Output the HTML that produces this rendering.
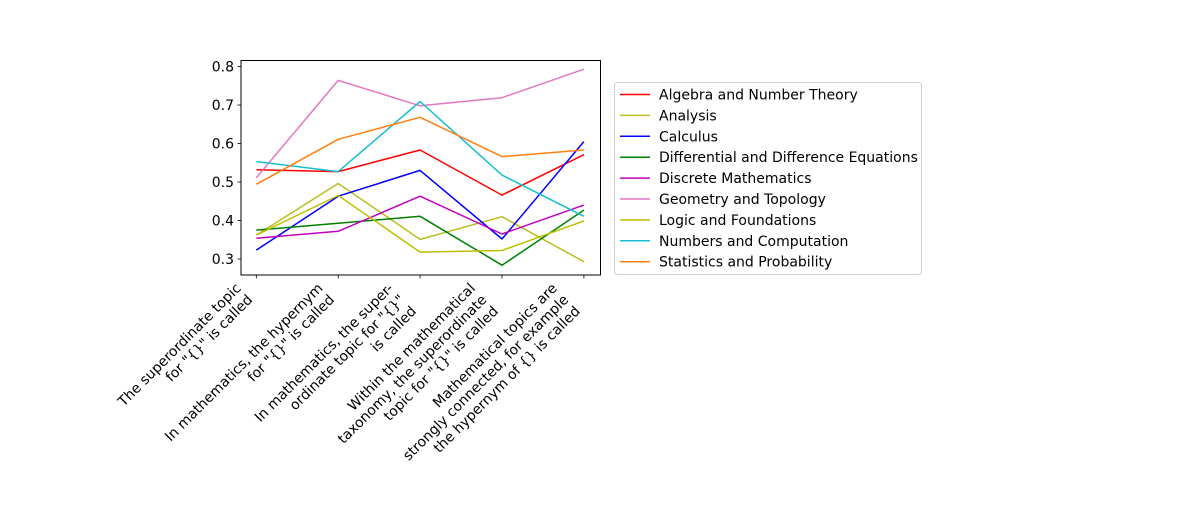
<!DOCTYPE html>
<html><head><meta charset="utf-8"><style>
html,body{margin:0;padding:0;background:#fff;}
svg text{font-family:"DejaVu Sans","Liberation Sans",sans-serif;font-size:14px;fill:#000;}
</style></head><body>
<svg id="chart" width="1200" height="500" xmlns="http://www.w3.org/2000/svg">
<rect x="0" y="0" width="1200" height="500" fill="#fff"/>
<g id="plot"></g>
<g id="xlabels"></g>
<g id="legend"></g>
</svg>
<script>
const categories = [
  ["The superordinate topic", "for \"{}\" is called"],
  ["In mathematics, the hypernym", "for \"{}\" is called"],
  ["In mathematics, the super-", "ordinate topic for \"{}\"", "is called"],
  ["Within the mathematical", "taxonomy, the superordinate", "topic for \"{}\" is called"],
  ["Mathematical topics are", "strongly connected, for example", "the hypernym of {} is called"]
];
const seriesNames = ["Algebra and Number Theory","Analysis","Calculus","Differential and Difference Equations","Discrete Mathematics","Geometry and Topology","Logic and Foundations","Numbers and Computation","Statistics and Probability"];
const seriesColors = ["#ff0000","#bcbd22","#0000ff","#008000","#bf00bf","#e377c2","#bfbf00","#17becf","#ff7f0e"];
const algebra = [0.532, 0.527, 0.583, 0.466, 0.571];
const analysis = [0.362, 0.496, 0.351, 0.410, 0.293];
const calculus = [0.323, 0.463, 0.530, 0.352, 0.605];
const differential = [0.375, 0.393, 0.411, 0.284, 0.427];
const discrete = [0.354, 0.372, 0.463, 0.365, 0.440];
const geometry = [0.511, 0.764, 0.698, 0.719, 0.793];
const logic = [0.362, 0.465, 0.318, 0.322, 0.399];
const numbers = [0.553, 0.527, 0.709, 0.518, 0.411];
const statistics = [0.494, 0.611, 0.668, 0.566, 0.583];
const yTicks = [0.3, 0.4, 0.5, 0.6, 0.7, 0.8];
const yTickLabels = ["0.3","0.4","0.5","0.6","0.7","0.8"];

const seriesValues = [algebra, analysis, calculus, differential, discrete, geometry, logic, numbers, statistics];
const NS = "http://www.w3.org/2000/svg";
const L = 241, R = 600.5, T = 60.5, B = 275;
const x0 = 256.3, xStep = 81.9;
function xScale(i){ return x0 + i * xStep; }
function yScale(v){ return 259 - (v - 0.3) * 385; }
function mk(tag, attrs, parent){ const e = document.createElementNS(NS, tag); for (const k in attrs) e.setAttribute(k, attrs[k]); parent.appendChild(e); return e; }

const plot = document.getElementById('plot');
seriesValues.forEach((vals, s) => {
  const pts = vals.map((v, i) => xScale(i).toFixed(1) + "," + yScale(v).toFixed(1)).join(" ");
  const pl = mk('polyline', {points: pts, fill: 'none', stroke: seriesColors[s], 'stroke-width': 1.5, 'stroke-linejoin': 'round'}, plot);
  
  
});
const frame = mk('rect', {x: L, y: T, width: R - L, height: B - T, fill: 'none', stroke: '#000', 'stroke-width': 1}, plot);



yTicks.forEach((v, i) => {
  const y = yScale(v);
  const t = mk('line', {x1: L - 3.5, x2: L, y1: y, y2: y, stroke: '#000', 'stroke-width': 0.8}, plot);
  
  
  const tx = mk('text', {x: L - 7, y: y + 5, 'text-anchor': 'end'}, plot);
  tx.textContent = yTickLabels[i];
  
  
});

const xl = document.getElementById('xlabels');
categories.forEach((lines, i) => {
  const x = xScale(i);
  const t = mk('line', {x1: x, x2: x, y1: B, y2: B + 3.5, stroke: '#000', 'stroke-width': 0.8}, plot);
  
  
  const n = lines.length;
  const g = mk('g', {}, xl);
  
  
  lines.forEach((ln, k) => {
    const ex = x - 3 - (n - 1) * 11.5 + k * 11.5;
    const ey = 289 + k * 11.5;
    const tx = mk('text', {x: ex, y: ey, 'text-anchor': 'end', transform: 'rotate(-45 ' + ex + ' ' + ey + ')'}, g);
    tx.textContent = ln;
  });
});

const lg = document.getElementById('legend');
const box = mk('rect', {x: 614.5, y: 82.5, width: 307, height: 192, rx: 3, fill: '#fff', stroke: '#d0d0d0', 'stroke-width': 1}, lg);


seriesNames.forEach((name, s) => {
  const y = 94.5 + s * 20.9;
  const g = mk('g', {}, lg);
  
  
  mk('line', {x1: 620, x2: 650, y1: y, y2: y, stroke: seriesColors[s], 'stroke-width': 1.5}, g);
  const tx = mk('text', {x: 659, y: y + 5}, g);
  tx.textContent = name;
});
</script>
</body></html>
